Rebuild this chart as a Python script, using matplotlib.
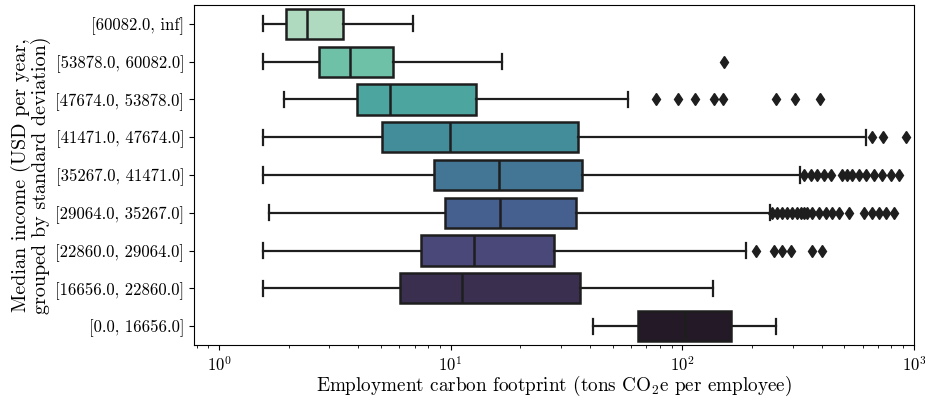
import matplotlib
matplotlib.use("Agg")
import matplotlib.pyplot as plt
import seaborn as sns
from matplotlib.colors import to_rgb
import colorsys

plt.rcParams["font.family"] = "serif"
plt.rcParams["font.serif"] = ["cmr10"]
plt.rcParams["mathtext.fontset"] = "cm"
plt.rcParams["axes.formatter.use_mathtext"] = True
plt.rcParams["axes.unicode_minus"] = False

categories = ["[60082.0, inf]", "[53878.0, 60082.0]", "[47674.0, 53878.0]",
              "[41471.0, 47674.0]", "[35267.0, 41471.0]", "[29064.0, 35267.0]",
              "[22860.0, 29064.0]", "[16656.0, 22860.0]", "[0.0, 16656.0]"]

whislo = [1.55, 1.55, 1.91, 1.55, 1.55, 1.65, 1.55, 1.55, 41.1]
q1 = [1.94, 2.71, 3.93, 5.08, 8.51, 9.42, 7.42, 6.03, 64.2]
med = [2.39, 3.67, 5.48, 9.97, 16.2, 16.4, 12.65, 11.15, 102.3]
q3 = [3.43, 5.64, 12.9, 35.4, 36.8, 34.7, 27.9, 36.3, 162.2]
whishi = [6.91, 16.6, 58.1, 622, 323, 239, 188, 136, 253.5]

fliers_0 = []
fliers_1 = [151.7]
fliers_2 = [77.0, 96.1, 113.4, 137.4, 149.2, 254.9, 307.8, 392.5]
fliers_3 = [661, 735, 926]
fliers_4 = [335.6, 358.6, 383, 409, 437, 491, 516, 542, 579, 619, 673, 730, 794, 862]
fliers_5 = [245, 257.6, 270.6, 284.4, 298.8, 314, 325, 336, 347, 364.6, 389.6,
            416, 444.6, 475, 525, 609, 661, 706, 755, 820]
fliers_6 = [209, 249, 269, 294, 362, 402]
fliers_7 = []
fliers_8 = []
fliers = [fliers_0, fliers_1, fliers_2, fliers_3, fliers_4, fliers_5,
          fliers_6, fliers_7, fliers_8]


def desaturate(c, prop=0.75):
    h, l, s = colorsys.rgb_to_hls(*to_rgb(c))
    return colorsys.hls_to_rgb(h, l, s * prop)


palette = [desaturate(c) for c in sns.color_palette("mako_r", len(categories))]

fig = plt.figure(figsize=(9.25, 4.03), dpi=100)
ax = fig.add_axes([0.2097, 0.144, 0.7783, 0.8436])

stats = []
for i in range(len(categories)):
    stats.append(dict(med=med[i], q1=q1[i], q3=q3[i], whislo=whislo[i],
                      whishi=whishi[i], fliers=fliers[i], label=categories[i]))

lc = "#1e1e1e"
lw = 1.8
bp = ax.bxp(stats, positions=list(range(len(categories))), widths=0.8,
            orientation="horizontal", patch_artist=True, capwidths=0.4,
            boxprops=dict(edgecolor=lc, linewidth=lw),
            medianprops=dict(color=lc, linewidth=lw),
            whiskerprops=dict(color=lc, linewidth=1.6),
            capprops=dict(color=lc, linewidth=1.6),
            flierprops=dict(marker="d", markerfacecolor=lc, markeredgecolor=lc,
                            markersize=6.5, linestyle="none"))
for patch, col in zip(bp["boxes"], palette):
    patch.set_facecolor(col)

ax.set_xscale("log")
ax.set_xlim(0.78, 1000)
ax.set_ylim(len(categories) - 0.5, -0.5)
ax.set_yticks(list(range(len(categories))))
ax.set_yticklabels(categories)
ax.tick_params(axis="both", labelsize=12)
ax.set_xlabel("Employment carbon footprint (tons CO$_2$e per employee)",
              fontsize=13.8, labelpad=0)
ax.set_ylabel("Median income (USD per year,\ngrouped by standard deviation)",
              fontsize=14.5, labelpad=3, linespacing=1.0)

fig.savefig("out.png", dpi=100)
